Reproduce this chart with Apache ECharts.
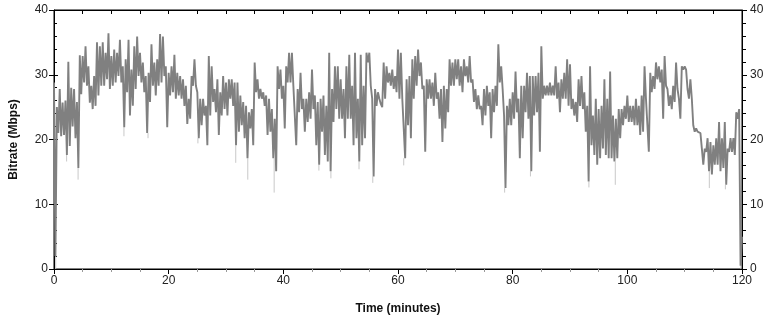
<!DOCTYPE html>
<html>
<head>
<meta charset="utf-8">
<script src="https://cdn.jsdelivr.net/npm/echarts@6/dist/echarts.min.js"></script>
<style>
  html, body { margin: 0; padding: 0; background: #fff; }
  #chart { width: 772px; height: 320px; }
</style>
</head>
<body>
<div id="chart"></div>
<script>
// sampling step of the readings below (minutes)
var step = 0.5;

// upper edge of the bitrate band, one value per half minute from 0 to 120
var hiVals = [
  28.8, 25, 27.8, 25.7, 26, 32, 28, 27.8, 25.8, 33,
  32.9, 34.4, 31.3, 28.3, 29.8, 35, 34.4, 35, 33.4, 36.4,
  32.9, 33.9, 33.4, 35.4, 31.3, 32.4, 35.4, 30.8, 34.4, 35.9,
  33.4, 31.9, 29.8, 30.3, 34.7, 31.9, 32.4, 36.3, 35.9, 31.3,
  30.3, 31.3, 33.1, 30.3, 29.8, 29.3, 28.3, 26.3, 29.8, 32.4,
  27.3, 26.3, 26.3, 25.2, 32.9, 31.3, 27.8, 29.3, 27.3, 29.8,
  28.8, 29.3, 29.3, 28.8, 28.8, 26.8, 25.8, 25.2, 24.2, 24.7,
  31.9, 29.3, 27.8, 27.3, 26.8, 26.3, 24.7, 23.2, 31.3, 30.8,
  28.3, 31.3, 33.4, 33.4, 28.3, 27.8, 30.3, 26.3, 26.3, 27.3,
  30.8, 26.8, 25.8, 26.3, 26.8, 25.2, 33.4, 27.8, 31.3, 31.3,
  29.3, 27.8, 31.3, 33.1, 28.3, 33.4, 26.3, 33.1, 28.3, 33.4,
  33.4, 26.3, 27.8, 27.3, 25.5, 31.9, 31.3, 30.3, 30.8, 29.8,
  33.9, 33.4, 26.3, 29.3, 29.8, 32.4, 32.9, 33.9, 31.9, 28.3,
  29.3, 29.3, 28.8, 30.3, 27.3, 27.8, 28.3, 27.8, 32.4, 31.9,
  32.4, 32.4, 31.3, 32.4, 31.3, 32.9, 29.3, 27.8, 26.8, 25.2,
  27.8, 28.3, 27.3, 27.8, 28.3, 34.7, 31.3, 23.7, 25.2, 26.3,
  27.3, 30.5, 26.3, 28.3, 28.3, 30.3, 29.8, 29.8, 29.8, 30.3,
  34.4, 28.3, 28.3, 28.8, 28.3, 31.3, 28.8, 29.3, 30.3, 32.4,
  31.6, 26.3, 25.8, 29.3, 29.8, 27.3, 25.2, 31.3, 23.7, 26.3,
  24.7, 25.2, 29.3, 26.3, 30.5, 23.7, 23.2, 24.7, 24.7, 25.2,
  26.8, 25.2, 25.2, 26.3, 25.2, 26.8, 31.3, 22.2, 30.3, 29.8,
  31.9, 31.3, 30.8, 32.9, 27.8, 26.8, 28.3, 31.9, 26.3, 31.3,
  31.3, 27.8, 29.3, 22.2, 21.7, 21.5, 18.6, 18.6, 20.2, 19.6,
  19.1, 20.2, 22.7, 20.2, 22.7, 18.6, 20.2, 20.2, 24.2, 24.7,
  5
];

// lower edge of the band, a quarter minute after each upper value
var loVals = [
  2, 21, 20.5, 20.7, 17.6, 19, 22, 20.2, 15.6, 27,
  28.8, 28.3, 25.7, 24.7, 25.2, 26.8, 28.3, 28.3, 29.3, 27.8,
  28.3, 28.8, 29.8, 28.8, 21.9, 27.3, 23.7, 25.2, 27.8, 29.8,
  28.8, 27.3, 21.0, 25.8, 28.3, 26.8, 28.3, 28.8, 29.8, 21.9,
  26.8, 27.3, 26.3, 26.8, 26.3, 25.2, 22.4, 23.2, 28.3, 28.3,
  20.2, 22.2, 23.7, 19.1, 23.7, 25.8, 24.2, 20.7, 23.7, 24.7,
  23.7, 26.3, 25.2, 19.1, 21.2, 22.2, 20.2, 17.1, 21.7, 19.1,
  27.3, 26.3, 26.3, 25.2, 20.7, 21.2, 17.1, 15.1, 27.8, 26.3,
  21.7, 28.8, 28.8, 28.3, 19.1, 24.2, 24.7, 21.2, 22.7, 23.2,
  24.7, 19.1, 16.1, 21.2, 17.6, 16.6, 15.1, 22.7, 24.7, 23.2,
  23.2, 20.2, 23.2, 23.2, 19.1, 20.2, 16.6, 19.1, 20.2, 31.9,
  28.3, 14.3, 25.2, 26.3, 25, 26.3, 28.8, 28.3, 27.8, 27.3,
  26.3, 26.3, 17.1, 22.2, 20.2, 26.3, 28.3, 29.8, 27.8, 18.1,
  26.3, 26.3, 25.2, 26.3, 23.2, 19.6, 21.7, 24.2, 28.3, 28.3,
  29.3, 28.3, 27.3, 29.8, 28.8, 28.8, 25.8, 24.7, 24.7, 22.2,
  23.7, 25.2, 20.2, 24.2, 25.2, 28.8, 27.8, 12.5, 22.2, 22.2,
  23.2, 24.2, 17.1, 20.2, 24.2, 23.2, 15.1, 23.7, 24.2, 18.1,
  26.3, 26.8, 26.8, 26.8, 26.8, 26.3, 24.2, 26.3, 26.3, 25.2,
  24.7, 23.7, 22.7, 25.2, 24.7, 21.2, 13.5, 19.1, 17.6, 16.1,
  17.1, 18.6, 17.6, 17.1, 17.1, 16.6, 17.1, 20.2, 22.2, 23.2,
  22.7, 22.7, 22.2, 22.2, 20.7, 21.2, 26.3, 18.1, 27.3, 27.8,
  29.3, 28.8, 23.2, 28.3, 25.2, 24.7, 25.8, 27.8, 23.2, 30.8,
  30.8, 26.3, 26.3, 21.2, 21.2, 21.0, 16.1, 18.1, 15.1, 14.6,
  16.1, 16.1, 15.1, 15.6, 13.0, 18.1, 18.1, 17.6, 23.2, 0.5
];

// short dips that only show as pale lines
var spikeTimes = [0.3, 2.2, 4.2, 12.2, 16.4, 25.1, 31.7, 33.8, 38.4, 46.2, 48.3, 53.2, 55.6, 61.0, 78.6, 83.1, 93.3, 97.9, 114.3, 117.1, 119.8];
var spikeVals  = [0, 16.6, 13.8, 20.5, 20.2, 19.4, 16.4, 13.8, 11.8, 15.2, 14.0, 15.4, 13.3, 16.0, 11.8, 14.3, 12.6, 13.0, 12.5, 12.3, 0];

var xTicks = [0, 20, 40, 60, 80, 100, 120];
var yTicks = [0, 10, 20, 30, 40];

// zigzag between upper and lower edge
var bandData = [];
for (var i = 0; i < hiVals.length; i++) {
  var t = i * step;
  bandData.push([t, hiVals[i]]);
  if (i < loVals.length) bandData.push([t + step / 2, loVals[i]]);
}

var spikeData = [];
for (var k = 0; k < spikeTimes.length; k++) {
  var idx = Math.min(Math.floor(spikeTimes[k] / step), loVals.length - 1);
  spikeData.push([spikeTimes[k], loVals[idx]]);
  spikeData.push([spikeTimes[k], spikeVals[k]]);
  spikeData.push([spikeTimes[k], '-']);
}

var font = 'Liberation Sans, Arial, sans-serif';
var black = '#000';
var gray = '#808080';

var myChart = echarts.init(document.getElementById('chart'), null, {renderer: 'canvas'});

var option = {
  animation: false,
  backgroundColor: '#fff',
  // plot frame
  grid: { left: 53, right: 30, top: 10, bottom: 48, show: true, borderColor: black, borderWidth: 1, backgroundColor: 'transparent' },
  xAxis: [
    {
      type: 'value', position: 'bottom', min: 0, max: 120, interval: 20,
      name: 'Time (minutes)', nameLocation: 'middle', nameGap: 34,
      nameTextStyle: { fontFamily: font, fontSize: 12, fontWeight: 'bold', color: '#111' },
      axisLine: { show: true, onZero: false, lineStyle: { color: black, width: 1 } },
      axisTick: { show: true, inside: false, length: 5, lineStyle: { color: black } },
      minorTick: { show: true, splitNumber: 4, length: 3, lineStyle: { color: '#999' } },
      axisLabel: {
        fontFamily: font, fontSize: 12, color: '#222', margin: 6,
        formatter: function (v) { return xTicks.indexOf(v) >= 0 ? String(v) : ''; }
      },
      splitLine: { show: false }
    },
    {
      type: 'value', position: 'top', min: 0, max: 120, interval: 20,
      axisLine: { show: true, onZero: false, lineStyle: { color: black, width: 1 } },
      axisTick: { show: true, inside: true, length: 4, lineStyle: { color: black } },
      minorTick: { show: true, splitNumber: 4, length: 4, lineStyle: { color: black } },
      axisLabel: { show: false },
      splitLine: { show: false }
    }
  ],
  yAxis: [
    {
      type: 'value', position: 'left', min: 0, max: 40, interval: 10,
      name: 'Bitrate (Mbps)', nameLocation: 'middle', nameGap: 34,
      nameTextStyle: { fontFamily: font, fontSize: 12, fontWeight: 'bold', color: '#111' },
      axisLine: { show: true, onZero: false, lineStyle: { color: black, width: 1 } },
      axisTick: { show: true, inside: false, length: 5, lineStyle: { color: black } },
      axisLabel: {
        fontFamily: font, fontSize: 12, color: '#222', margin: 6,
        formatter: function (v) { return yTicks.indexOf(v) >= 0 ? String(v) : ''; }
      },
      splitLine: { show: false }
    },
    {
      type: 'value', position: 'right', min: 0, max: 40, interval: 10,
      axisLine: { show: true, onZero: false, lineStyle: { color: black, width: 1 } },
      axisTick: { show: true, inside: false, length: 5, lineStyle: { color: black } },
      minorTick: { show: true, splitNumber: 5, length: 4, lineStyle: { color: black } },
      axisLabel: { fontFamily: font, fontSize: 12, color: '#222', margin: 8 },
      splitLine: { show: false }
    },
    {
      type: 'value', position: 'left', min: 0, max: 40, interval: 10,
      axisLine: { show: false, onZero: false },
      axisTick: { show: true, inside: true, length: 4, lineStyle: { color: black } },
      minorTick: { show: true, splitNumber: 5, length: 3, lineStyle: { color: black } },
      axisLabel: { show: false },
      splitLine: { show: false }
    }
  ],
  series: [
    {
      name: 'dips', type: 'line', xAxisIndex: 0, yAxisIndex: 0,
      data: spikeData, showSymbol: false, connectNulls: false, z: 1,
      lineStyle: { color: '#c8c8c8', width: 1 }
    },
    {
      name: 'bitrate', type: 'line', xAxisIndex: 0, yAxisIndex: 0,
      data: bandData, showSymbol: false, z: 3,
      lineStyle: { color: gray, width: 1.9 }
    }
  ]
};

myChart.setOption(option);
</script>
</body>
</html>
